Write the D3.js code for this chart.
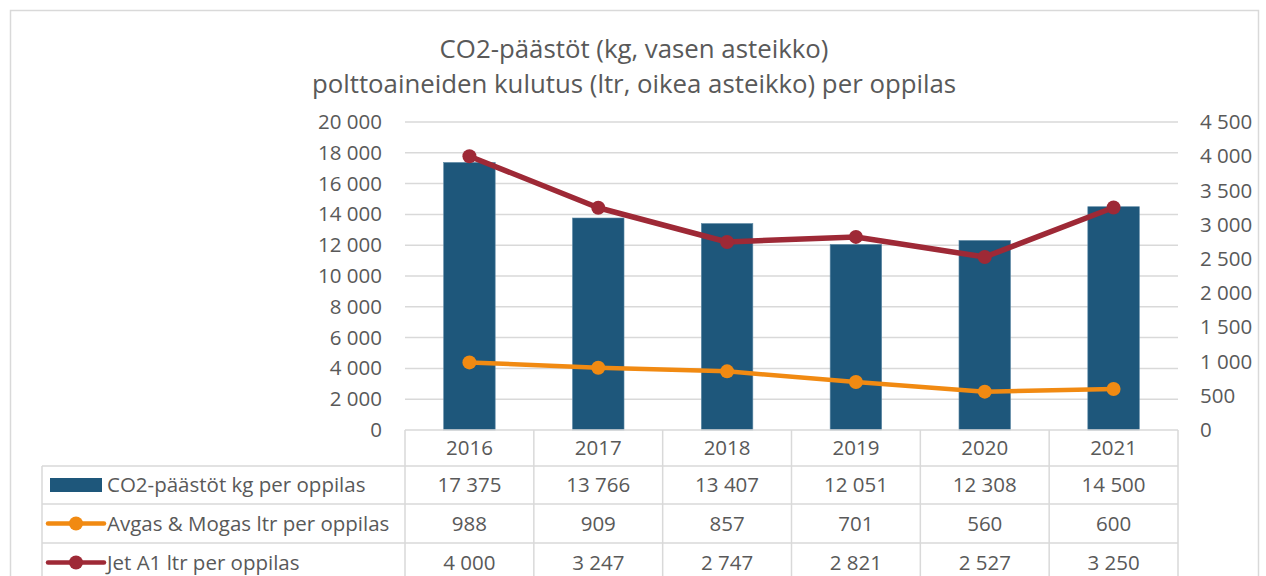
<!DOCTYPE html>
<html>
<head>
<meta charset="utf-8">
<script src="https://cdn.jsdelivr.net/npm/d3@7"></script>
<style>
  body { margin: 0; background: #fff; }
  svg { display: block; font-family: "Open Sans", sans-serif; }
</style>
</head>
<body>
<svg id="chart" width="1266" height="576"></svg>
<script>
// data
const years = ['2016', '2017', '2018', '2019', '2020', '2021'];
const co2 = [17375, 13766, 13407, 12051, 12308, 14500];
const avgas = [988, 909, 857, 701, 560, 600];
const jet = [4000, 3247, 2747, 2821, 2527, 3250];
const leftTicks = [0, 2000, 4000, 6000, 8000, 10000, 12000, 14000, 16000, 18000, 20000];
const rightTicks = [0, 500, 1000, 1500, 2000, 2500, 3000, 3500, 4000, 4500];
const titleLines = ['CO2-päästöt (kg, vasen asteikko)', 'polttoaineiden kulutus (ltr, oikea asteikko) per oppilas'];
const seriesNames = ['CO2-päästöt kg per oppilas', 'Avgas & Mogas ltr per oppilas', 'Jet A1 ltr per oppilas'];

const BAR = '#1e577b', ORANGE = '#f18a12', RED = '#9e2936';
const GRID = '#d9d9d9', TEXT = '#595959';
const FS = 20.5;

const svg = d3.select('#chart');
const fmt = v => d3.format(',')(v).replace(/,/g, ' ');

const plot = { left: 405, right: 1178, top: 122, bottom: 430 };
const legendLeft = 42;
const rowTops = [430, 466, 504, 543, 582];

// outer frame
svg.append('rect')
  .attr('x', 10.5).attr('y', 10.5)
  .attr('width', 1248).attr('height', 600)
  .attr('fill', 'none').attr('stroke', GRID).attr('stroke-width', 1.5);

// title
svg.append('g').selectAll('text')
  .data(titleLines)
  .join('text')
  .attr('x', 634).attr('y', (d, i) => 58 + i * 35)
  .attr('text-anchor', 'middle')
  .attr('fill', TEXT).attr('font-size', 25.8)
  .text(d => d);

// scales
const x = d3.scaleBand().domain(years)
  .range([plot.left, plot.right]).paddingInner(0.6).paddingOuter(0.3);
const yL = d3.scaleLinear().domain([0, 20000]).range([plot.bottom, plot.top]);
const yR = d3.scaleLinear().domain([0, 4500]).range([plot.bottom, plot.top]);
const cx = d => x(d) + x.bandwidth() / 2;

// gridlines
svg.append('g').selectAll('line')
  .data(leftTicks.filter(t => t > 0))
  .join('line')
  .attr('x1', plot.left).attr('x2', plot.right)
  .attr('y1', d => yL(d)).attr('y2', d => yL(d))
  .attr('stroke', GRID).attr('stroke-width', 1.5);

// axes
const leftAxis = svg.append('g')
  .attr('transform', `translate(${plot.left - 23},0)`)
  .call(d3.axisLeft(yL).tickValues(leftTicks).tickFormat(fmt).tickSize(0).tickPadding(0));
const rightAxis = svg.append('g')
  .attr('transform', `translate(${plot.right + 22},0)`)
  .call(d3.axisRight(yR).tickValues(rightTicks).tickFormat(fmt).tickSize(0).tickPadding(0));
[leftAxis, rightAxis].forEach(a => {
  a.select('.domain').remove();
  a.selectAll('text').attr('fill', TEXT).attr('font-size', FS).attr('font-family', '"Open Sans", sans-serif');
});

// bars
svg.append('g').selectAll('rect')
  .data(years)
  .join('rect')
  .attr('x', d => x(d)).attr('width', x.bandwidth())
  .attr('y', (d, i) => yL(co2[i]))
  .attr('height', (d, i) => yL(0) - yL(co2[i]))
  .attr('fill', BAR).attr('stroke', '#5f8aa6').attr('stroke-width', 0.6);

// lines
function drawLine(values, color, width) {
  const g = svg.append('g');
  g.append('path')
    .datum(values)
    .attr('fill', 'none').attr('stroke', color).attr('stroke-width', width)
    .attr('stroke-linejoin', 'round')
    .attr('d', d3.line().x((d, i) => cx(years[i])).y(d => yR(d)));
  g.selectAll('circle')
    .data(values)
    .join('circle')
    .attr('cx', (d, i) => cx(years[i])).attr('cy', d => yR(d))
    .attr('r', 7).attr('fill', color);
}
drawLine(avgas, ORANGE, 4.5);
drawLine(jet, RED, 5.5);

// data table
const table = svg.append('g');
const colEdges = years.map(y => x(y) - x.step() * x.paddingInner() / 2).concat([plot.right]);
// horizontal lines
table.selectAll('line.h')
  .data(rowTops)
  .join('line')
  .attr('class', 'h')
  .attr('x1', (d, i) => i === 0 ? plot.left : legendLeft)
  .attr('x2', plot.right)
  .attr('y1', d => d).attr('y2', d => d)
  .attr('stroke', GRID).attr('stroke-width', 1.5);
// vertical lines
table.selectAll('line.v')
  .data(colEdges)
  .join('line')
  .attr('class', 'v')
  .attr('x1', d => d).attr('x2', d => d)
  .attr('y1', rowTops[0]).attr('y2', 576)
  .attr('stroke', GRID).attr('stroke-width', 1.5);
table.append('line')
  .attr('x1', legendLeft).attr('x2', legendLeft)
  .attr('y1', rowTops[1]).attr('y2', 576)
  .attr('stroke', GRID).attr('stroke-width', 1.5);

const rows = [years, co2.map(fmt), avgas.map(fmt), jet.map(fmt)];
rows.forEach((vals, r) => {
  const mid = (rowTops[r] + rowTops[r + 1]) / 2;
  table.append('g').selectAll('text')
    .data(vals)
    .join('text')
    .attr('x', (d, i) => cx(years[i]))
    .attr('y', mid)
    .attr('dy', '0.35em')
    .attr('text-anchor', 'middle')
    .attr('fill', TEXT).attr('font-size', FS)
    .text(d => d);
});

// legend keys in the table
const keyColors = [BAR, ORANGE, RED];
seriesNames.forEach((name, r) => {
  const mid = (rowTops[r + 1] + rowTops[r + 2]) / 2;
  if (r === 0) {
    table.append('rect')
      .attr('x', 50).attr('y', mid - 7).attr('width', 52).attr('height', 14)
      .attr('fill', BAR);
  } else {
    table.append('line')
      .attr('x1', 48).attr('x2', 104).attr('y1', mid).attr('y2', mid)
      .attr('stroke', keyColors[r]).attr('stroke-width', 4.5).attr('stroke-linecap', 'round');
    table.append('circle')
      .attr('cx', 76).attr('cy', mid).attr('r', 7).attr('fill', keyColors[r]);
  }
  table.append('text')
    .attr('x', 107).attr('y', mid).attr('dy', '0.35em')
    .attr('fill', TEXT).attr('font-size', FS)
    .text(name);
});
</script>
</body>
</html>
